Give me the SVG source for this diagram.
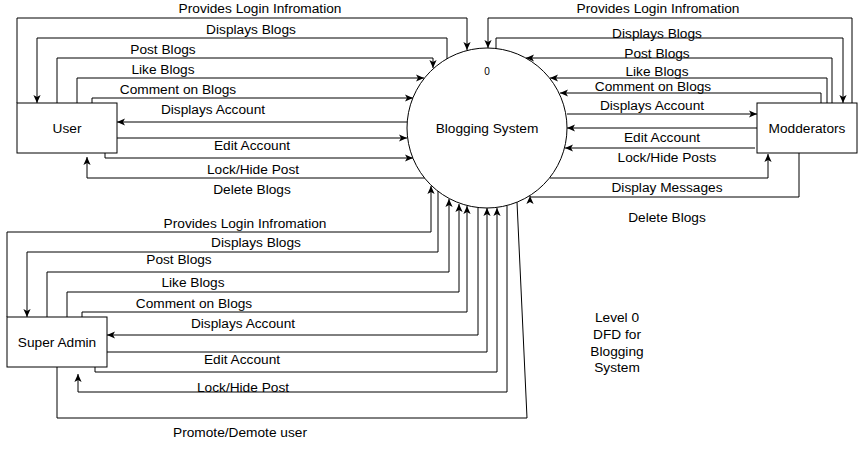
<svg xmlns="http://www.w3.org/2000/svg" width="862" height="449" viewBox="0 0 862 449">
<style>
.t{font-family:"Liberation Sans",Arial,sans-serif;font-size:13.7px;fill:#000;text-anchor:middle;dominant-baseline:central}
.s{font-size:10px}
.n{fill:#fff;stroke:#000;stroke-width:1}
.c path{fill:none;stroke:#000;stroke-width:1}
.c path.a{marker-end:url(#arr)}
</style>
<defs>
<marker id="arr" viewBox="0 0 10 10" refX="10" refY="5" markerWidth="8" markerHeight="8" markerUnits="userSpaceOnUse" orient="auto">
<path d="M0,0.5 L10,5 L0,9.5 L2.5,5 Z" fill="#000"/>
</marker>
</defs>
<rect width="862" height="449" fill="#fff"/>
<g id="connectors" class="c">
<!-- User -->
<path class="a" d="M17,103 V18 H467 V50"/>
<path class="a" d="M447,59 V38 H37 V103"/>
<path class="a" d="M57,103 V58 H433 V68"/>
<path class="a" d="M77,103 V78 H424"/>
<path class="a" d="M92,103 V98 H413"/>
<path class="a" d="M407,122 H117"/>
<path class="a" d="M117,138 H407"/>
<path class="a" d="M105,153 V158 H413"/>
<path class="a" d="M425,178 H87 V157"/>
<!-- Modderators -->
<path class="a" d="M852,103 V18 H488 V48"/>
<path class="a" d="M496,49 V38 H843 V103"/>
<path class="a" d="M832,103 V58 H526"/>
<path class="a" d="M827,103 V78 H550"/>
<path class="a" d="M821,103 V93 H560"/>
<path class="a" d="M567,114 H757"/>
<path class="a" d="M757,128 H567"/>
<path class="a" d="M755,148 H565"/>
<path class="a" d="M550,178 H768 V154"/>
<path class="a" d="M799,153 V197 H530 V196"/>
<!-- Super Admin -->
<path class="a" d="M7,317 V232 H431 V186"/>
<path class="a" d="M438,191 V252 H27 V317"/>
<path class="a" d="M47,317 V272 H449 V199"/>
<path class="a" d="M67,317 V292 H459 V204"/>
<path class="a" d="M82,317 V312 H467 V206"/>
<path class="a" d="M478,208 V335 H107"/>
<path class="a" d="M107,352 H487 V208"/>
<path class="a" d="M95,367 V372 H497 V208"/>
<path class="a" d="M507,206 V392 H78 V374"/>
<path d="M517,202 L527,418 H57 V367"/>
</g>
<g id="labels">
<text class="t" x="260" y="8">Provides Login Infromation</text>
<text class="t" x="251" y="29">Displays Blogs</text>
<text class="t" x="163" y="49">Post Blogs</text>
<text class="t" x="163" y="69">Like Blogs</text>
<text class="t" x="178" y="89">Comment on Blogs</text>
<text class="t" x="213" y="109">Displays Account</text>
<text class="t" x="252" y="145">Edit Account</text>
<text class="t" x="253" y="169">Lock/Hide Post</text>
<text class="t" x="252" y="189">Delete Blogs</text>
<text class="t" x="658" y="8">Provides Login Infromation</text>
<text class="t" x="657" y="33">Displays Blogs</text>
<text class="t" x="657" y="53">Post Blogs</text>
<text class="t" x="657" y="71">Like Blogs</text>
<text class="t" x="653" y="86">Comment on Blogs</text>
<text class="t" x="652" y="105">Displays Account</text>
<text class="t" x="662" y="137">Edit Account</text>
<text class="t" x="667" y="157">Lock/Hide Posts</text>
<text class="t" x="667" y="187">Display Messages</text>
<text class="t" x="667" y="217">Delete Blogs</text>
<text class="t" x="245" y="223">Provides Login Infromation</text>
<text class="t" x="256" y="242">Displays Blogs</text>
<text class="t" x="179" y="259">Post Blogs</text>
<text class="t" x="193" y="282">Like Blogs</text>
<text class="t" x="194" y="303">Comment on Blogs</text>
<text class="t" x="243" y="323">Displays Account</text>
<text class="t" x="242" y="359">Edit Account</text>
<text class="t" x="243" y="387">Lock/Hide Post</text>
<text class="t" x="240" y="432">Promote/Demote user</text>
</g>
<g id="process">
<circle class="n" cx="487" cy="128" r="80"/>
<text class="t s" x="487" y="71">0</text>
<text class="t" x="487" y="128">Blogging System</text>
</g>
<g id="user">
<rect class="n" x="17" y="103" width="100" height="50"/>
<text class="t" x="67" y="128">User</text>
</g>
<g id="modderators">
<rect class="n" x="757" y="103" width="100" height="50"/>
<text class="t" x="807" y="128">Modderators</text>
</g>
<g id="superadmin">
<rect class="n" x="7" y="317" width="100" height="50"/>
<text class="t" x="57" y="342">Super Admin</text>
</g>
<g id="note">
<text class="t" x="617" y="317">Level 0</text>
<text class="t" x="617" y="334">DFD for</text>
<text class="t" x="617" y="351">Blogging</text>
<text class="t" x="617" y="367">System</text>
</g>
</svg>
